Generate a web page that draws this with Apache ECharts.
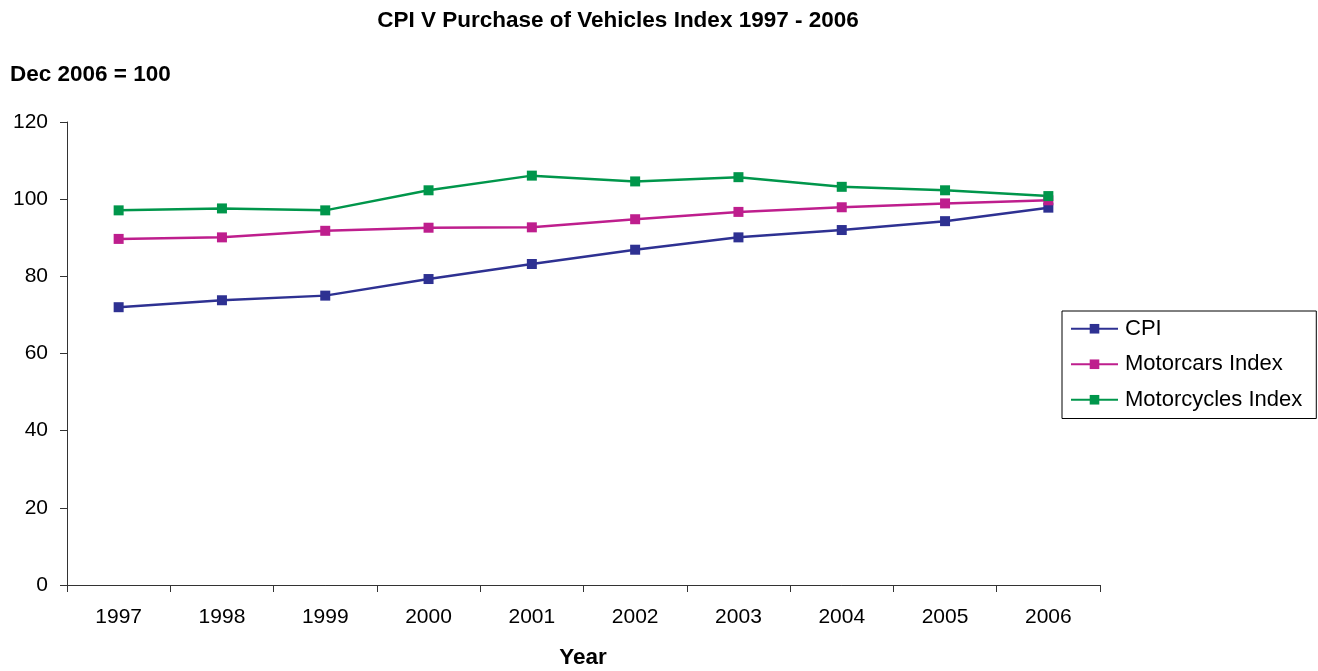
<!DOCTYPE html>
<html>
<head>
<meta charset="utf-8">
<script src="https://cdn.jsdelivr.net/npm/echarts@6/dist/echarts.min.js"></script>
<style>
  html, body { margin: 0; padding: 0; background: #fff; }
  #chart { width: 1318px; height: 671px; }
</style>
</head>
<body>
<div id="chart"></div>
<script>
  // data
  const years = ['1997', '1998', '1999', '2000', '2001', '2002', '2003', '2004', '2005', '2006']
  const cpi = [72.0, 73.8, 75.0, 79.3, 83.2, 86.9, 90.1, 92.0, 94.3, 97.8]
  const motorcars = [89.7, 90.1, 91.8, 92.6, 92.7, 94.8, 96.7, 97.9, 98.9, 99.7]
  const motorcycles = [97.1, 97.6, 97.1, 102.3, 106.1, 104.6, 105.7, 103.2, 102.3, 100.8]

  const font = 'Liberation Sans, Arial, sans-serif'
  const axisColor = '#333'

  function lineSeries(name, data, color) {
    return {
      name: name,
      type: 'line',
      data: data,
      symbol: 'rect',
      symbolSize: 10,
      color: color,
      lineStyle: { width: 2.5, color: color },
      itemStyle: { color: color },
      emphasis: { disabled: true }
    }
  }

  let myChart = echarts.init(document.getElementById('chart'))
  myChart.setOption({
    animation: false,
    backgroundColor: '#fff',
    textStyle: { fontFamily: font },
    title: [
      {
        text: 'CPI V Purchase of Vehicles Index 1997 - 2006',
        left: 618, top: 9, textAlign: 'center', padding: 0,
        textStyle: { fontSize: 22.5, fontWeight: 'bold', color: '#000', fontFamily: font }
      },
      {
        text: 'Dec 2006 = 100',
        left: 10, top: 63, padding: 0,
        textStyle: { fontSize: 22.5, fontWeight: 'bold', color: '#000', fontFamily: font }
      },
      {
        text: 'Year',
        left: 583, top: 646, textAlign: 'center', padding: 0,
        textStyle: { fontSize: 22.5, fontWeight: 'bold', color: '#000', fontFamily: font }
      }
    ],
    legend: {
      orient: 'vertical',
      left: 1062,
      top: 311,
      padding: [6, 14, 7, 8],
      itemGap: 12,
      itemWidth: 47,
      itemHeight: 12,
      borderColor: '#000',
      borderWidth: 1,
      backgroundColor: '#fff',
      textStyle: { fontSize: 22, color: '#000', fontFamily: font, lineHeight: 23.5, padding: [0, 0, 0, 2] },
      data: ['CPI', 'Motorcars Index', 'Motorcycles Index']
    },
    grid: {
      left: 67,
      right: 218,
      top: 122,
      bottom: 86,
      containLabel: false
    },
    xAxis: {
      type: 'category',
      data: years,
      boundaryGap: true,
      axisLine: { lineStyle: { color: axisColor, width: 1 } },
      axisTick: { show: true, length: 7, inside: false, alignWithLabel: false, lineStyle: { color: axisColor } },
      axisLabel: { fontSize: 21, color: '#000', margin: 22, fontFamily: font },
      splitLine: { show: false }
    },
    yAxis: {
      type: 'value',
      min: 0,
      max: 120,
      interval: 20,
      axisLine: { show: true, lineStyle: { color: axisColor, width: 1 } },
      axisTick: { show: true, length: 7, lineStyle: { color: axisColor } },
      axisLabel: { fontSize: 21, color: '#000', margin: 19, fontFamily: font },
      splitLine: { show: false }
    },
    series: [
      lineSeries('CPI', cpi, '#2E3192'),
      lineSeries('Motorcars Index', motorcars, '#BE1E8D'),
      lineSeries('Motorcycles Index', motorcycles, '#00964B')
    ]
  })
</script>
</body>
</html>
